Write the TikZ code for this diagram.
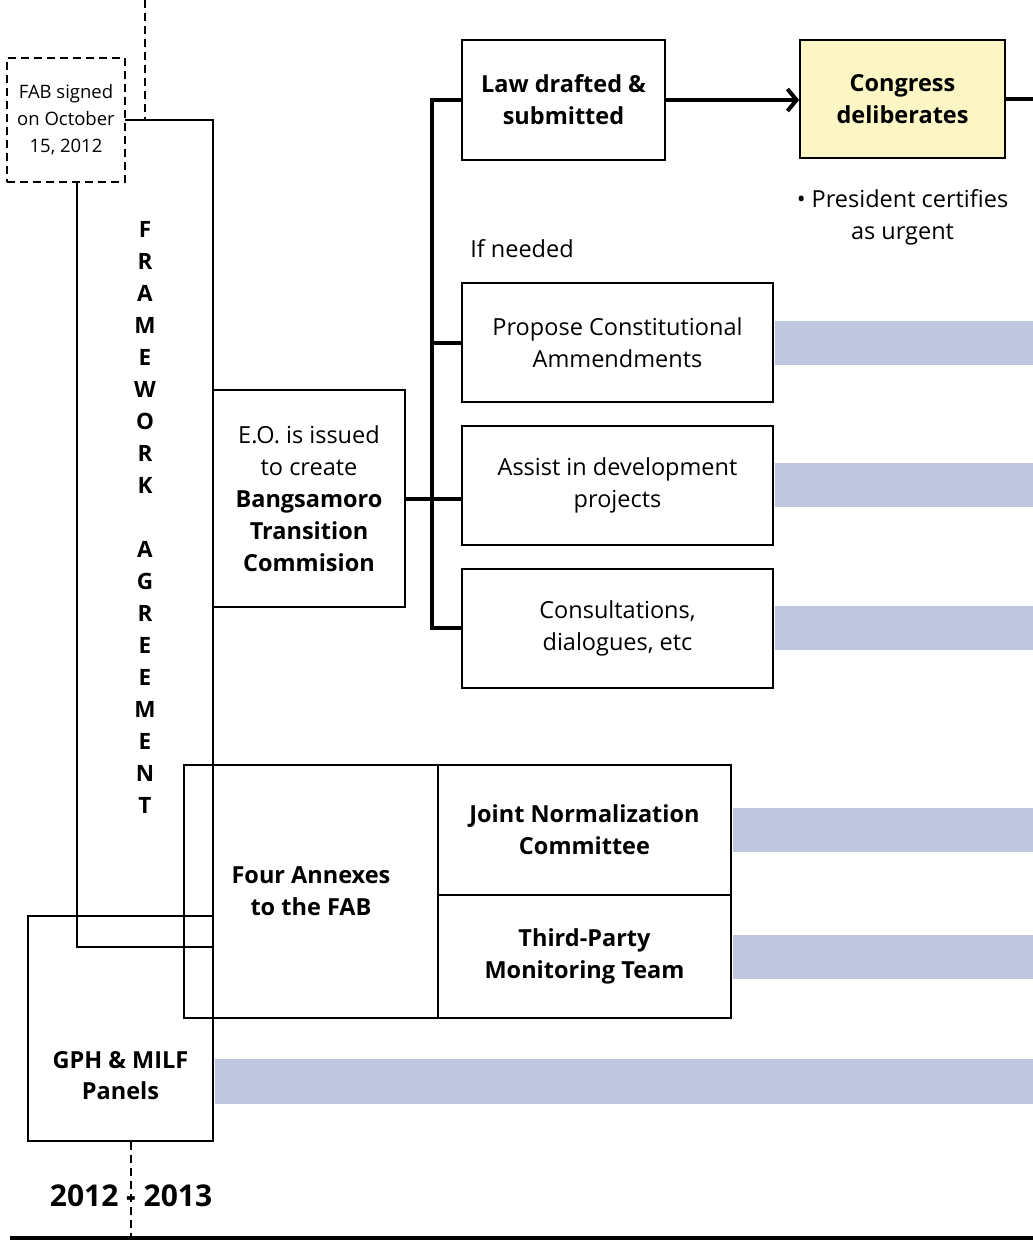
\documentclass[tikz,border=0pt]{standalone}
\usepackage{fontspec}
\setmainfont{Open Sans}
\usepackage{xcolor}
\usepackage{tikz}
\usetikzlibrary{positioning,arrows.meta,calc}

\definecolor{barblue}{RGB}{191,199,223}
\definecolor{paleyellow}{RGB}{252,246,196}

\begin{document}
\begin{tikzpicture}[x=1pt, y=-1pt, node distance=18pt,
  font=\fontsize{23.5}{32}\selectfont,
  box/.style={draw, line width=1.8pt, align=center, inner sep=0pt},
  keybox/.style={box, font=\fontsize{23.5}{32}\selectfont\bfseries},
  datebox/.style={draw, line width=2.2pt, dash pattern=on 8pt off 5pt, fill=white, align=center, inner sep=0pt, font=\fontsize{18.5}{27}\selectfont},
  note/.style={align=center, inner sep=0pt},
  link/.style={line width=4pt},
  arr/.style={link, -{Straight Barb[length=9pt, width=22pt]}},
  timedash/.style={line width=2.2pt, dash pattern=on 8pt off 5pt},
  bar/.style={fill=barblue}]
\useasboundingbox (0,0) rectangle (1033,1240);
\coordinate (edge) at (1033,0);

% framework agreement and the signing
\node[box, minimum width=136pt, minimum height=827pt] (fw) at (145,533.5) {};
\node[note, font=\fontsize{22.5}{32}\selectfont\bfseries] (fwtext) at (145,517) {F\\R\\A\\M\\E\\W\\O\\R\\K\\[32pt]A\\G\\R\\E\\E\\M\\E\\N\\T};
\node[datebox, minimum width=118pt, minimum height=124pt] (fab) at (66,120) {FAB signed\\on October\\15, 2012};

% transition commission and its tasks
\node[box, minimum width=192pt, minimum height=217pt] (eo) at (309,498.5) {E.O. is issued\\to create\\\textbf{Bangsamoro}\\\textbf{Transition}\\\textbf{Commision}};
\node[keybox, minimum width=203pt, minimum height=120pt] (law) at (563.5,100) {Law drafted \&\\submitted};
\node[keybox, fill=paleyellow, minimum width=205pt, minimum height=118pt] (cong) at (902.5,99) {Congress\\deliberates};
\node[note, below=30pt of cong] (urgent) {• President certifies\\as urgent};
\node[box, minimum width=311pt, minimum height=119pt] (prop) at (617.5,342.5) {Propose Constitutional\\Ammendments};
\node[box, minimum width=311pt, minimum height=119pt, below=22pt of prop] (assist) {Assist in development\\projects};
\node[box, minimum width=311pt, minimum height=119pt, below=22pt of assist] (consult) {Consultations,\\dialogues, etc};
\node[note, anchor=west] (ifneed) at ($(prop.north west)+(9,-33)$) {If needed};

% annexes and panels
\node[keybox, minimum width=254pt, minimum height=253pt] (annex) at (311,891.5) {Four Annexes\\to the FAB};
\node[keybox, minimum width=293pt, minimum height=130pt] (jnc) at (584.5,830) {Joint Normalization\\Committee};
\node[keybox, minimum width=293pt, minimum height=123pt, below=-1.8pt of jnc] (tpmt) {Third-Party\\Monitoring Team};
\node[box, minimum width=185pt, minimum height=225pt] (gph) at (120.5,1028.5) {};
\node[note, font=\fontsize{23.5}{31}\selectfont\bfseries] (gphtext) at (120.5,1076) {GPH \& MILF\\Panels};

% bars running on
\foreach \b in {prop,assist,consult,jnc,tpmt}
  \fill[bar] ([xshift=0.9pt,yshift=22pt]\b.east) rectangle ([yshift=-22pt]\b.east -| edge);
\fill[bar] ([xshift=0.9pt,yshift=17pt]gph.east |- gphtext) rectangle ([yshift=-28pt]edge |- gphtext);

% connectors
\coordinate (top) at (145,0);
\coordinate (spine) at (432,100);
\coordinate (now) at (131,1238);
\coordinate (axl) at (10,1238);
\draw[timedash] (top) -- (fw.north);
\draw[link] (law.west) -- (spine) |- (consult.west);
\draw[link] (spine |- prop.west) -- (prop.west);
\draw[link] (eo.east) -- (eo.east -| assist.west);
\draw[arr] (law.east) -- (law.east -| cong.west);
\draw[link] (cong.east) -- (cong.east -| edge);

% timeline
\node[note, font=\fontsize{30}{32}\selectfont\bfseries] (year) at (131,1196) {2012 - 2013};
\draw[timedash] (now |- gph.south) -- (now);
\draw[line width=5pt] (axl) -- (edge |- now);
\end{tikzpicture}
\end{document}
